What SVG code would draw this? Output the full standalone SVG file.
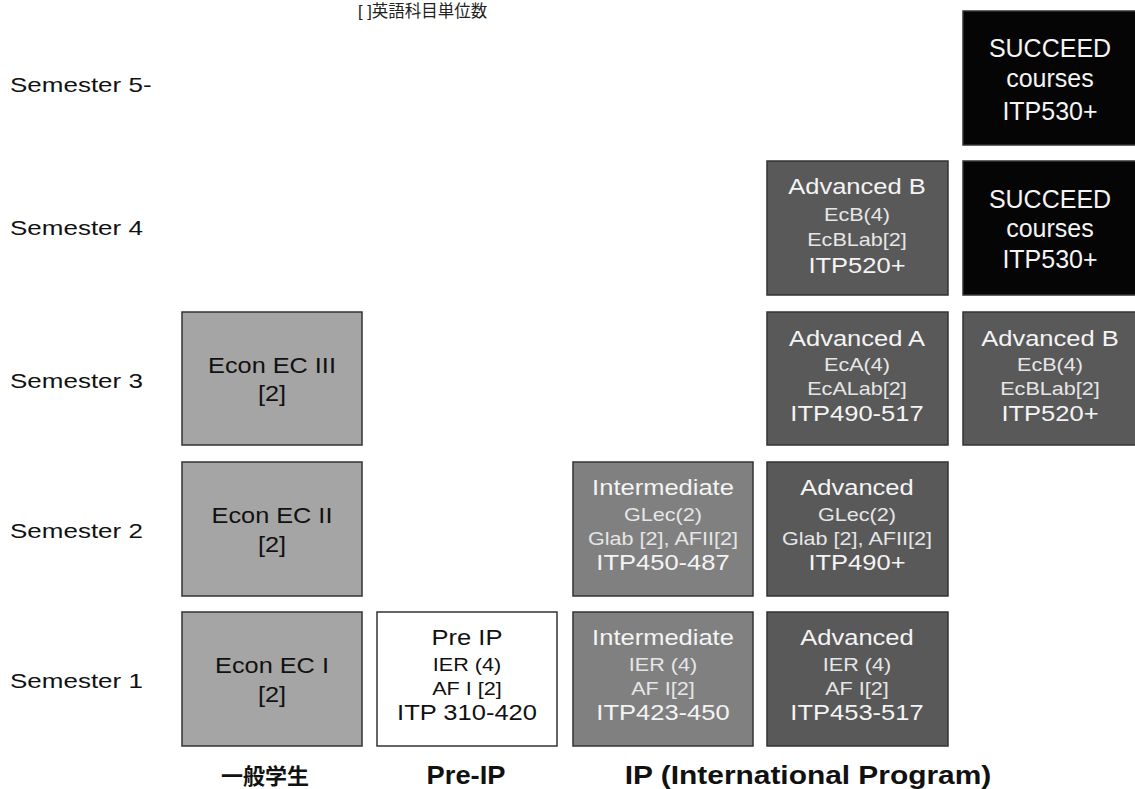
<svg xmlns="http://www.w3.org/2000/svg" width="1135" height="789" viewBox="0 0 1135 789">
<style>
text{font-family:"Liberation Sans",Arial,sans-serif;text-anchor:middle}
.box{stroke:#333;stroke-width:1.5}
.econ{fill:#a5a5a5}
.pre{fill:#ffffff}
.mid{fill:#808080}
.adv{fill:#595959}
.suc{fill:#050505}
.big{font-size:22px}
.sm{font-size:18px}
.suct{font-size:25px}
.dk{fill:#111}
.lt{fill:#f4f4f4}
.ltg{fill:#e6e6e6}
.sem{font-size:20px;fill:#111;text-anchor:start}
.foot{font-size:26px;font-weight:bold;fill:#111}
.cjk{font-family:"Liberation Sans","Noto Sans CJK JP",sans-serif}
</style>
<rect width="1135" height="789" fill="#fff"/>
<text class="cjk" x="358" y="17" style="font-size:16.5px;text-anchor:start" fill="#222">[ ]英語科目単位数</text>

<g id="labels">
<text class="sem" transform="translate(10 92) scale(1.3 1)">Semester 5-</text>
<text class="sem" transform="translate(10 235) scale(1.3 1)">Semester 4</text>
<text class="sem" transform="translate(10 388) scale(1.3 1)">Semester 3</text>
<text class="sem" transform="translate(10 538) scale(1.3 1)">Semester 2</text>
<text class="sem" transform="translate(10 688) scale(1.3 1)">Semester 1</text>
<text class="foot cjk" x="265" y="784" style="font-size:22px">一般学生</text>
<text class="foot" transform="translate(466 784) scale(1.05 1)">Pre-IP</text>
<text class="foot" transform="translate(808 784) scale(1.15 1)">IP (International Program)</text>
</g>

<g id="econ3"><rect class="box econ" x="182" y="312" width="180" height="133"/>
<text class="big dk" transform="translate(272 373) scale(1.15 1)">Econ EC III</text><text class="big dk" transform="translate(272 401) scale(1.15 1)">[2]</text></g>
<g id="econ2"><rect class="box econ" x="182" y="462" width="180" height="134"/>
<text class="big dk" transform="translate(272 523) scale(1.15 1)">Econ EC II</text><text class="big dk" transform="translate(272 552) scale(1.15 1)">[2]</text></g>
<g id="econ1"><rect class="box econ" x="182" y="612" width="180" height="134"/>
<text class="big dk" transform="translate(272 673) scale(1.15 1)">Econ EC I</text><text class="big dk" transform="translate(272 702) scale(1.15 1)">[2]</text></g>

<g id="preip"><rect class="box pre" x="377" y="612" width="180" height="134"/>
<text class="big dk" transform="translate(467 645) scale(1.16 1)">Pre IP</text>
<text class="sm dk" transform="translate(467 671) scale(1.2 1)">IER (4)</text>
<text class="sm dk" transform="translate(467 695) scale(1.2 1)">AF I [2]</text>
<text class="big dk" transform="translate(467 720) scale(1.16 1)">ITP 310-420</text></g>

<g id="inter1"><rect class="box mid" x="573" y="612" width="180" height="134"/>
<text class="big lt" transform="translate(663 645) scale(1.16 1)">Intermediate</text>
<text class="sm ltg" transform="translate(663 671) scale(1.2 1)">IER (4)</text>
<text class="sm ltg" transform="translate(663 695) scale(1.2 1)">AF I[2]</text>
<text class="big lt" transform="translate(663 720) scale(1.16 1)">ITP423-450</text></g>

<g id="inter2"><rect class="box mid" x="573" y="462" width="180" height="134"/>
<text class="big lt" transform="translate(663 495) scale(1.16 1)">Intermediate</text>
<text class="sm ltg" transform="translate(663 521) scale(1.2 1)">GLec(2)</text>
<text class="sm ltg" transform="translate(663 545) scale(1.2 1)">Glab [2], AFII[2]</text>
<text class="big lt" transform="translate(663 570) scale(1.16 1)">ITP450-487</text></g>

<g id="adv1"><rect class="box adv" x="767" y="612" width="181" height="134"/>
<text class="big lt" transform="translate(857 645) scale(1.16 1)">Advanced</text>
<text class="sm ltg" transform="translate(857 671) scale(1.2 1)">IER (4)</text>
<text class="sm ltg" transform="translate(857 695) scale(1.2 1)">AF I[2]</text>
<text class="big lt" transform="translate(857 720) scale(1.16 1)">ITP453-517</text></g>

<g id="adv2"><rect class="box adv" x="767" y="462" width="181" height="134"/>
<text class="big lt" transform="translate(857 495) scale(1.16 1)">Advanced</text>
<text class="sm ltg" transform="translate(857 521) scale(1.2 1)">GLec(2)</text>
<text class="sm ltg" transform="translate(857 545) scale(1.2 1)">Glab [2], AFII[2]</text>
<text class="big lt" transform="translate(857 570) scale(1.16 1)">ITP490+</text></g>

<g id="advA3"><rect class="box adv" x="767" y="312" width="181" height="133"/>
<text class="big lt" transform="translate(857 346) scale(1.16 1)">Advanced A</text>
<text class="sm ltg" transform="translate(857 371) scale(1.2 1)">EcA(4)</text>
<text class="sm ltg" transform="translate(857 395) scale(1.2 1)">EcALab[2]</text>
<text class="big lt" transform="translate(857 421) scale(1.16 1)">ITP490-517</text></g>

<g id="advB3"><rect class="box adv" x="963" y="312" width="173" height="133"/>
<text class="big lt" transform="translate(1050 346) scale(1.16 1)">Advanced B</text>
<text class="sm ltg" transform="translate(1050 371) scale(1.2 1)">EcB(4)</text>
<text class="sm ltg" transform="translate(1050 395) scale(1.2 1)">EcBLab[2]</text>
<text class="big lt" transform="translate(1050 421) scale(1.16 1)">ITP520+</text></g>

<g id="advB4"><rect class="box adv" x="767" y="161" width="181" height="134"/>
<text class="big lt" transform="translate(857 194) scale(1.16 1)">Advanced  B</text>
<text class="sm ltg" transform="translate(857 221) scale(1.2 1)">EcB(4)</text>
<text class="sm ltg" transform="translate(857 246) scale(1.2 1)">EcBLab[2]</text>
<text class="big lt" transform="translate(857 273) scale(1.16 1)">ITP520+</text></g>

<g id="succ4"><rect class="box suc" x="963" y="161" width="173" height="134"/>
<text class="suct lt" x="1050" y="208">SUCCEED</text>
<text class="suct lt" x="1050" y="237">courses</text>
<text class="suct lt" x="1050" y="268">ITP530+</text></g>

<g id="succ5"><rect class="box suc" x="963" y="11" width="173" height="134"/>
<text class="suct lt" x="1050" y="57">SUCCEED</text>
<text class="suct lt" x="1050" y="87">courses</text>
<text class="suct lt" x="1050" y="120">ITP530+</text></g>

<g id="connectors"/>
</svg>
